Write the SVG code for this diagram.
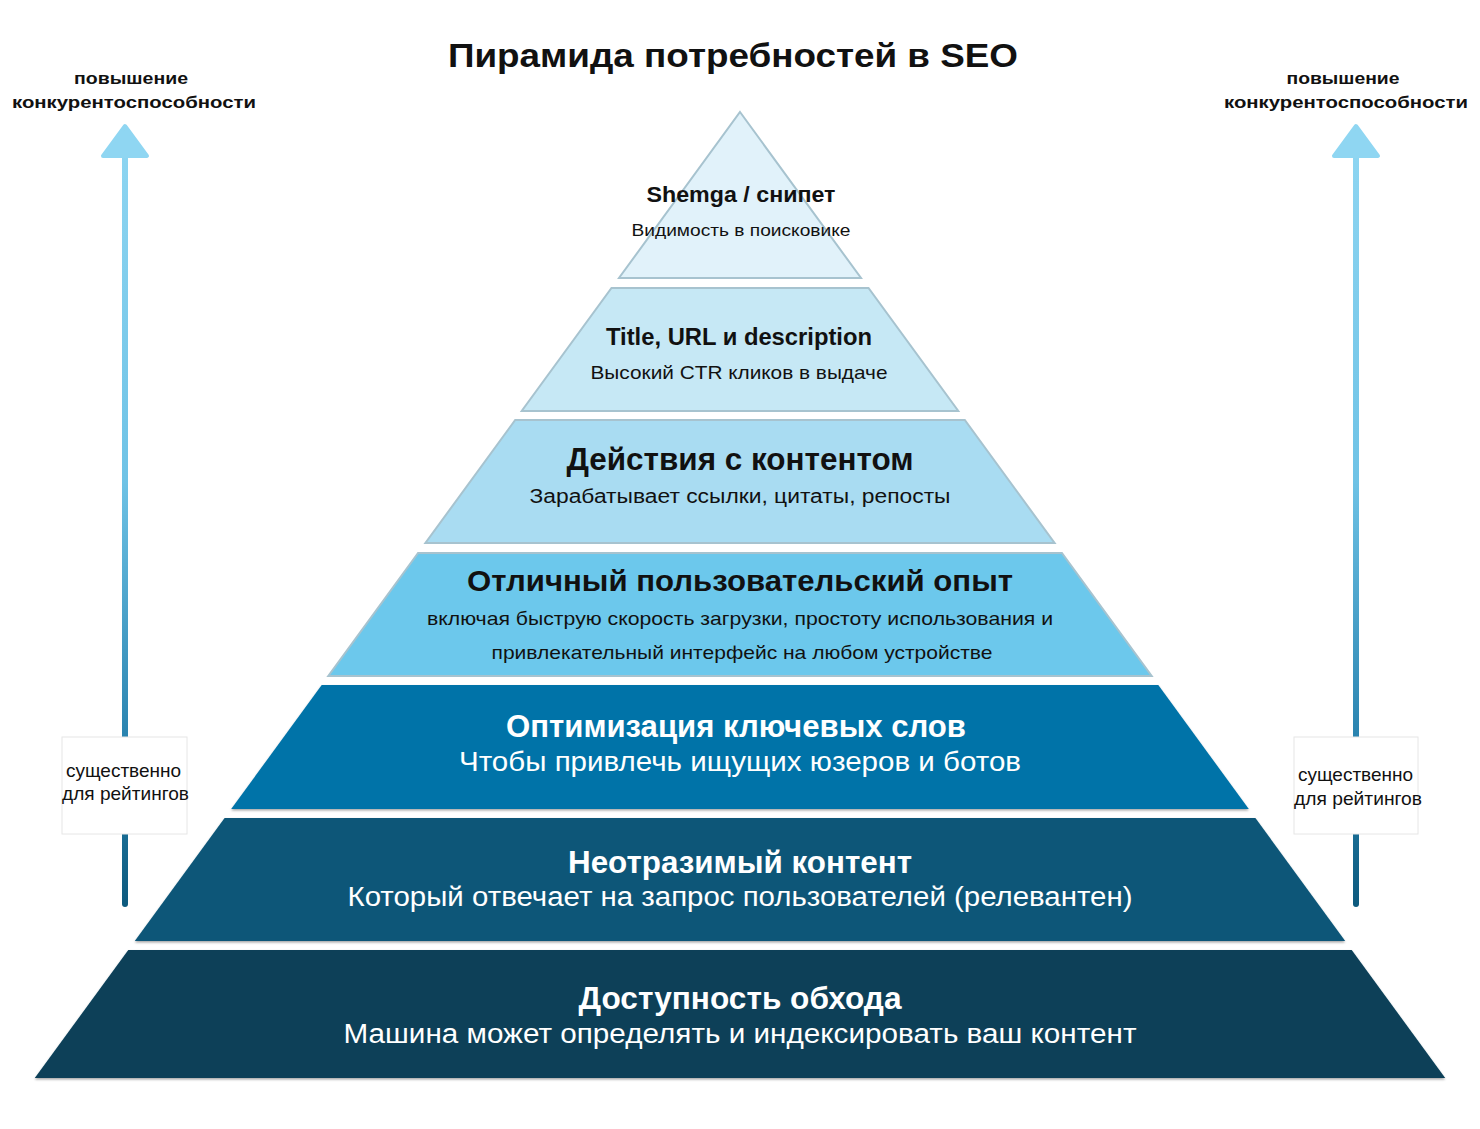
<svg xmlns="http://www.w3.org/2000/svg" width="1480" height="1129" viewBox="0 0 1480 1129">
<defs>
<linearGradient id="shaft" gradientUnits="userSpaceOnUse" x1="0" y1="130" x2="0" y2="906">
<stop offset="0" stop-color="#8fd6f2"/>
<stop offset="0.45" stop-color="#6fc3e6"/>
<stop offset="0.78" stop-color="#2a84b0"/>
<stop offset="1" stop-color="#0d5a7e"/>
</linearGradient>
<filter id="sh" x="-5%" y="-5%" width="110%" height="115%">
<feDropShadow dx="0" dy="1.5" stdDeviation="1.2" flood-color="#000" flood-opacity="0.35"/>
</filter>
</defs>
<style>
text{font-family:"Liberation Sans",Arial,sans-serif;text-anchor:middle}
.light{stroke:#a7c3cf;stroke-width:2}
.h{font-weight:bold}
.ink{fill:#111}
.w{fill:#fff}
.side{font-weight:bold;font-size:17px;fill:#111}
.box{fill:#fff;stroke:#e6e6e6;stroke-width:1}
.boxt{font-size:18.5px;fill:#111}
</style>
<rect width="1480" height="1129" fill="#fff"/>
<text x="733" y="67" class="h ink" font-size="33" textLength="570" lengthAdjust="spacingAndGlyphs">Пирамида потребностей в SEO</text>

<g id="connectors">
<g id="arrow-left">
<line x1="125" y1="150" x2="125" y2="904" stroke="url(#shaft)" stroke-width="6" stroke-linecap="round"/>
<path d="M125,126 L147,156 L103,156 Z" fill="#8fd6f2" stroke="#8fd6f2" stroke-width="4" stroke-linejoin="round"/>
</g>
<g id="arrow-right">
<line x1="1356" y1="150" x2="1356" y2="904" stroke="url(#shaft)" stroke-width="6" stroke-linecap="round"/>
<path d="M1356,126 L1378,156 L1334,156 Z" fill="#8fd6f2" stroke="#8fd6f2" stroke-width="4" stroke-linejoin="round"/>
</g>
</g>

<g id="label-left-top">
<text x="131" y="84" class="side" textLength="114" lengthAdjust="spacingAndGlyphs">повышение</text>
<text x="134" y="108" class="side" textLength="244" lengthAdjust="spacingAndGlyphs">конкурентоспособности</text>
</g>
<g id="label-right-top">
<text x="1343" y="84" class="side" textLength="113" lengthAdjust="spacingAndGlyphs">повышение</text>
<text x="1346" y="108" class="side" textLength="244" lengthAdjust="spacingAndGlyphs">конкурентоспособности</text>
</g>
<g id="label-left-box">
<rect x="62" y="737" width="125" height="97" class="box"/>
<text x="123.5" y="777" class="boxt" textLength="115" lengthAdjust="spacingAndGlyphs">существенно</text>
<text x="125.5" y="800" class="boxt" textLength="127" lengthAdjust="spacingAndGlyphs">для рейтингов</text>
</g>
<g id="label-right-box">
<rect x="1294" y="737" width="124" height="97" class="box"/>
<text x="1355.5" y="781" class="boxt" textLength="115" lengthAdjust="spacingAndGlyphs">существенно</text>
<text x="1358" y="805" class="boxt" textLength="128" lengthAdjust="spacingAndGlyphs">для рейтингов</text>
</g>

<g id="tier-1">
<polygon points="740,112 861,278 619,278" fill="#e1f2fa" class="light"/>
<text x="741" y="202" class="h ink" font-size="22" textLength="189" lengthAdjust="spacingAndGlyphs">Shemga / снипет</text>
<text x="741" y="236" class="ink" font-size="17" textLength="219" lengthAdjust="spacingAndGlyphs">Видимость в поисковике</text>
</g>
<g id="tier-2">
<polygon points="611.5,288 868.5,288 958.3,411 521.7,411" fill="#c6e8f5" class="light"/>
<text x="739" y="345" class="h ink" font-size="24" textLength="266" lengthAdjust="spacingAndGlyphs">Title, URL и description</text>
<text x="739" y="379" class="ink" font-size="19" textLength="297" lengthAdjust="spacingAndGlyphs">Высокий CTR кликов в выдаче</text>
</g>
<g id="tier-3">
<polygon points="515.2,420 964.8,420 1054.6,543 425.4,543" fill="#a9dcf2" class="light"/>
<text x="740" y="470" class="h ink" font-size="31" textLength="347" lengthAdjust="spacingAndGlyphs">Действия с контентом</text>
<text x="740" y="503" class="ink" font-size="20" textLength="421" lengthAdjust="spacingAndGlyphs">Зарабатывает ссылки, цитаты, репосты</text>
</g>
<g id="tier-4">
<polygon points="418.1,553 1061.9,553 1151.7,676 328.3,676" fill="#6cc8ec" class="light"/>
<text x="740" y="591" class="h ink" font-size="30" textLength="546" lengthAdjust="spacingAndGlyphs">Отличный пользовательский опыт</text>
<text x="740" y="625" class="ink" font-size="19" textLength="626" lengthAdjust="spacingAndGlyphs">включая быструю скорость загрузки, простоту использования и</text>
<text x="742" y="659" class="ink" font-size="19" textLength="501" lengthAdjust="spacingAndGlyphs">привлекательный интерфейс на любом устройстве</text>
</g>
<g id="tier-5">
<polygon points="321.7,685 1158.3,685 1248.8,809 231.2,809" fill="#0073a8" filter="url(#sh)"/>
<text x="736" y="737" class="h w" font-size="31" textLength="460" lengthAdjust="spacingAndGlyphs">Оптимизация ключевых слов</text>
<text x="740" y="771" class="w" font-size="27" textLength="562" lengthAdjust="spacingAndGlyphs">Чтобы привлечь ищущих юзеров и ботов</text>
</g>
<g id="tier-6">
<polygon points="224.6,818 1255.4,818 1345.2,941 134.8,941" fill="#0a5678" filter="url(#sh)"/>
<text x="740" y="873" class="h w" font-size="31" textLength="344" lengthAdjust="spacingAndGlyphs">Неотразимый контент</text>
<text x="740" y="906" class="w" font-size="27" textLength="785" lengthAdjust="spacingAndGlyphs">Который отвечает на запрос пользователей (релевантен)</text>
</g>
<g id="tier-7">
<polygon points="128.3,950 1351.7,950 1445.2,1078 34.8,1078" fill="#083f58" filter="url(#sh)"/>
<text x="740" y="1009" class="h w" font-size="31" textLength="323" lengthAdjust="spacingAndGlyphs">Доступность обхода</text>
<text x="740" y="1043" class="w" font-size="27" textLength="793" lengthAdjust="spacingAndGlyphs">Машина может определять и индексировать ваш контент</text>
</g>
</svg>
